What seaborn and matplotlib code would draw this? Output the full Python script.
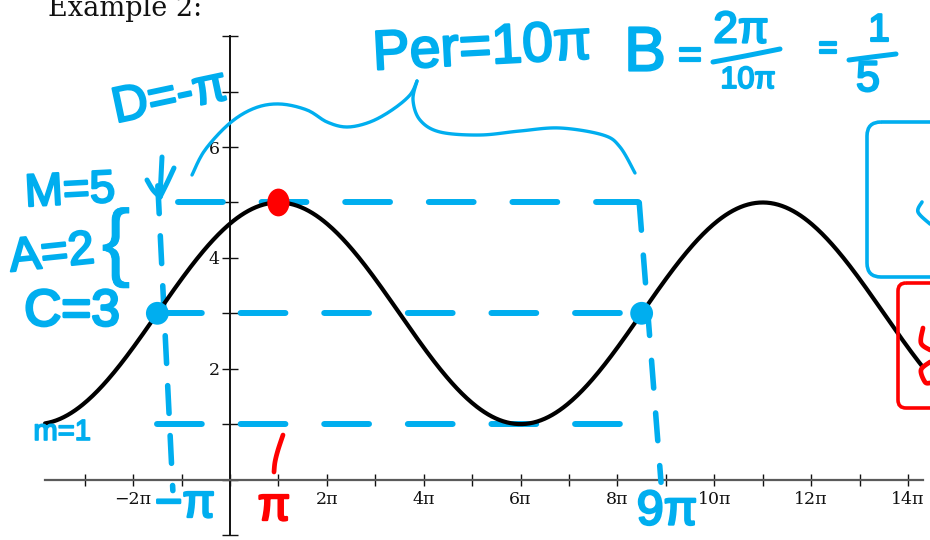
import numpy as np
import pandas as pd
import seaborn as sns
import matplotlib
matplotlib.use("Agg")
import matplotlib.pyplot as plt
import matplotlib.transforms as mtransforms
import matplotlib.patheffects as pe
from matplotlib.patches import FancyBboxPatch
from matplotlib.path import Path
from matplotlib.markers import MarkerStyle

PI = np.pi

# y = A*cos(2*pi/period * (x - peak)) + C
amplitude = 2
midline = 3
period_pi = 10            # period, in multiples of pi
peak_x_pi = 1             # first maximum, in multiples of pi
domain_pi = [-3.82, 14.3]

x_tick_pi = list(range(-3, 15))
x_label_pi = [-2, 2, 4, 6, 8, 10, 12, 14]
y_tick_vals = list(range(-1, 9))
y_label_vals = [2, 4, 6]

guide_levels = [5, 3, 1]             # maximum, midline, minimum
midline_points_pi = [-1.5, 8.5]      # midline crossings bounding one period
peak_point_pi = [1]
peak_point_val = [5]

BLUE = "#00AEEF"
RED = "#FF0000"
W, H = 930, 540

sns.set_theme(style="white")
plt.rcParams["font.family"] = ["DejaVu Serif", "DejaVu Sans"]

fig = plt.figure(figsize=(W / 100, H / 100), dpi=100)
ax = fig.add_axes([0, 0, 1, 1])
ax.set_facecolor("white")

# image-pixel coordinates (origin top-left) for the hand annotations
px = mtransforms.Affine2D().scale(1 / W, -1 / H).translate(0, 1) + fig.transFigure

# ---- the sinusoid --------------------------------------------------------
xs = np.linspace(domain_pi[0], domain_pi[1], 700) * PI
ys = amplitude * np.cos(2 * PI / (period_pi * PI) * (xs - peak_x_pi * PI)) + midline
curve = pd.DataFrame({"x": xs, "y": ys})
sns.lineplot(data=curve, x="x", y="y", color="black", lw=3.0, sort=False, ax=ax, zorder=4)

ax.set_xlim(-4.749 * PI, 14.454 * PI)
ax.set_ylim(-1.092, 8.655)
ax.set_xlabel("")
ax.set_ylabel("")

# ---- axes through the origin -------------------------------------------
for side in ("top", "right"):
    ax.spines[side].set_visible(False)
ax.spines["left"].set_position(("data", 0))
ax.spines["bottom"].set_position(("data", 0))
ax.spines["left"].set_bounds(y_tick_vals[0], y_tick_vals[-1])
ax.spines["bottom"].set_bounds(domain_pi[0] * PI, domain_pi[1] * PI)
ax.spines["left"].set_color("#111111")
ax.spines["bottom"].set_color("#5a5a5a")
ax.spines["left"].set_linewidth(1.4)
ax.spines["bottom"].set_linewidth(1.6)

ax.set_xticks([k * PI for k in x_tick_pi])
ax.set_xticklabels([("\u2212" if k < 0 else "") + f"{abs(k)}\u03c0" if k in x_label_pi else ""
                    for k in x_tick_pi])
ax.set_yticks(y_tick_vals)
ax.set_yticklabels([str(v) if v in y_label_vals else "" for v in y_tick_vals])
ax.tick_params(axis="x", direction="inout", length=8.6, width=1.0, color="#111111",
               pad=4, labelsize=12.5, labelcolor="#111111", bottom=True)
ax.tick_params(axis="y", direction="inout", length=12, width=1.0, color="#111111",
               pad=1.5, labelsize=12.5, labelcolor="#111111", left=True)
ax.grid(False)

ax.text(48, 16, "Example 2:", transform=px, family="DejaVu Serif", fontsize=19.5,
        ha="left", va="baseline", color="#111111")

# ---- dashed guides for max / midline / min -------------------------------
guide_spans = {5: (-1.07, 8.42), 3: (-1.5, 8.5), 1: (-1.5, 8.5)}
for lvl in guide_levels:
    a, b = guide_spans[lvl]
    ax.plot([a * PI, b * PI], [lvl, lvl], color=BLUE, lw=4.3, dashes=(7.5, 6.5),
            dash_capstyle="round", zorder=3)

# vertical guides at the period endpoints
ax.plot([-1.49 * PI, -1.18 * PI], [5.3, -0.2], color=BLUE, lw=4.0, dashes=(5, 4),
        dash_capstyle="round", zorder=3)
ax.plot([8.45 * PI, 8.9 * PI], [5.0, -0.05], color=BLUE, lw=4.0, dashes=(5, 4.5),
        dash_capstyle="round", zorder=3)

# midline crossing points and the maximum
sns.scatterplot(x=[p * PI for p in midline_points_pi], y=[midline] * len(midline_points_pi),
                s=270, color=BLUE, edgecolor="none", ax=ax, zorder=6)
egg = Path.unit_circle().transformed(mtransforms.Affine2D().scale(0.8, 1.0))
sns.scatterplot(x=[p * PI for p in peak_point_pi], y=peak_point_val, s=400,
                marker=MarkerStyle(egg), color=RED, edgecolor="none", ax=ax, zorder=7)


# ---- hand annotations ---------------------------------------------------
def hand(s, x, y, size, color=BLUE, rot=0, pen=1.6):
    ax.text(x, y, s, transform=px, fontsize=size, color=color, rotation=rot,
            ha="center", va="center", fontweight="normal", family="Liberation Sans",
            rotation_mode="anchor", zorder=8,
            path_effects=[pe.withStroke(linewidth=pen, foreground=color)])


def stroke(points, color=BLUE, lw=2.4, n=12):
    """Smooth pen stroke through the given pixel points (Catmull-Rom)."""
    p = np.asarray(points, float)
    p = np.vstack([p[0], p, p[-1]])
    out = []
    t = np.linspace(0, 1, n, endpoint=False)[:, None]
    for i in range(1, len(p) - 2):
        p0, p1, p2, p3 = p[i - 1], p[i], p[i + 1], p[i + 2]
        seg = 0.5 * ((2 * p1) + (-p0 + p2) * t + (2 * p0 - 5 * p1 + 4 * p2 - p3) * t ** 2
                     + (-p0 + 3 * p1 - 3 * p2 + p3) * t ** 3)
        out.append(seg)
    out.append(p[-2][None, :])
    out = np.vstack(out)
    ax.plot(out[:, 0], out[:, 1], transform=px, color=color, lw=lw,
            solid_capstyle="round", solid_joinstyle="round", zorder=8)


hand("Per=10\u03c0", 482, 50, 40, rot=3)
hand("B", 645, 54, 45)
hand("=", 690, 57, 30)
hand("2\u03c0", 741, 31, 32)
stroke([(713, 62), (745, 56), (780, 49)], lw=3.6)
hand("10\u03c0", 748, 80, 22, pen=1.4)
hand("=", 828, 50, 24)
hand("1", 879, 31, 28)
stroke([(849, 60), (872, 57), (896, 54)], lw=3.6)
hand("5", 868, 80, 31)

hand("D=-\u03c0", 170, 98, 36, rot=12)
hand("M=5", 70, 192, 33, rot=3)
hand("A=2", 52, 255, 34, rot=6)
hand("{", 116, 248, 62, pen=0.6)
hand("C=3", 72, 312, 37, pen=2.0)
hand("m=1", 62, 432, 21, pen=1.2)
hand("\u2212\u03c0", 185, 505, 34, pen=1.7)
hand("\u03c0", 274, 508, 34, color=RED, pen=1.7)
hand("9\u03c0", 667, 512, 35, pen=1.7)

# arrow into the left period endpoint
stroke([(162, 157), (161, 177), (160, 197)], lw=3.6)
stroke([(147, 180), (153, 190), (160, 197)], lw=3.6)
stroke([(174, 168), (167, 183), (160, 197)], lw=3.6)

# curly brace spanning one period
stroke([(192, 175), (205, 150), (230, 123), (255, 108), (280, 104), (307, 110),
        (327, 122), (347, 127), (370, 122), (392, 110), (410, 95), (417, 81)])
stroke([(417, 81), (413, 100), (420, 120), (440, 132), (480, 135), (520, 131),
        (560, 128), (603, 135), (620, 147), (635, 173)])

# small red tick above the π label
stroke([(283, 435), (278, 450), (275, 462), (274, 472)], color=RED, lw=3.4)

# boxed notes at the right edge
ax.add_patch(FancyBboxPatch((867, 122), 110, 155, boxstyle="round,pad=0,rounding_size=14",
                            transform=px, fill=False, ec=BLUE, lw=2.6, zorder=8, clip_on=False))
stroke([(922, 202), (918, 212), (930, 224)], lw=2.6)
ax.add_patch(FancyBboxPatch((898, 283), 90, 125, boxstyle="round,pad=0,rounding_size=8",
                            transform=px, fill=False, ec=RED, lw=2.6, zorder=8, clip_on=False))
stroke([(923, 328), (921, 343), (930, 350)], color=RED, lw=3.4)
stroke([(930, 362), (921, 370), (925, 382), (930, 383)], color=RED, lw=3.4)

fig.savefig("out.png", dpi=100, facecolor="white")
